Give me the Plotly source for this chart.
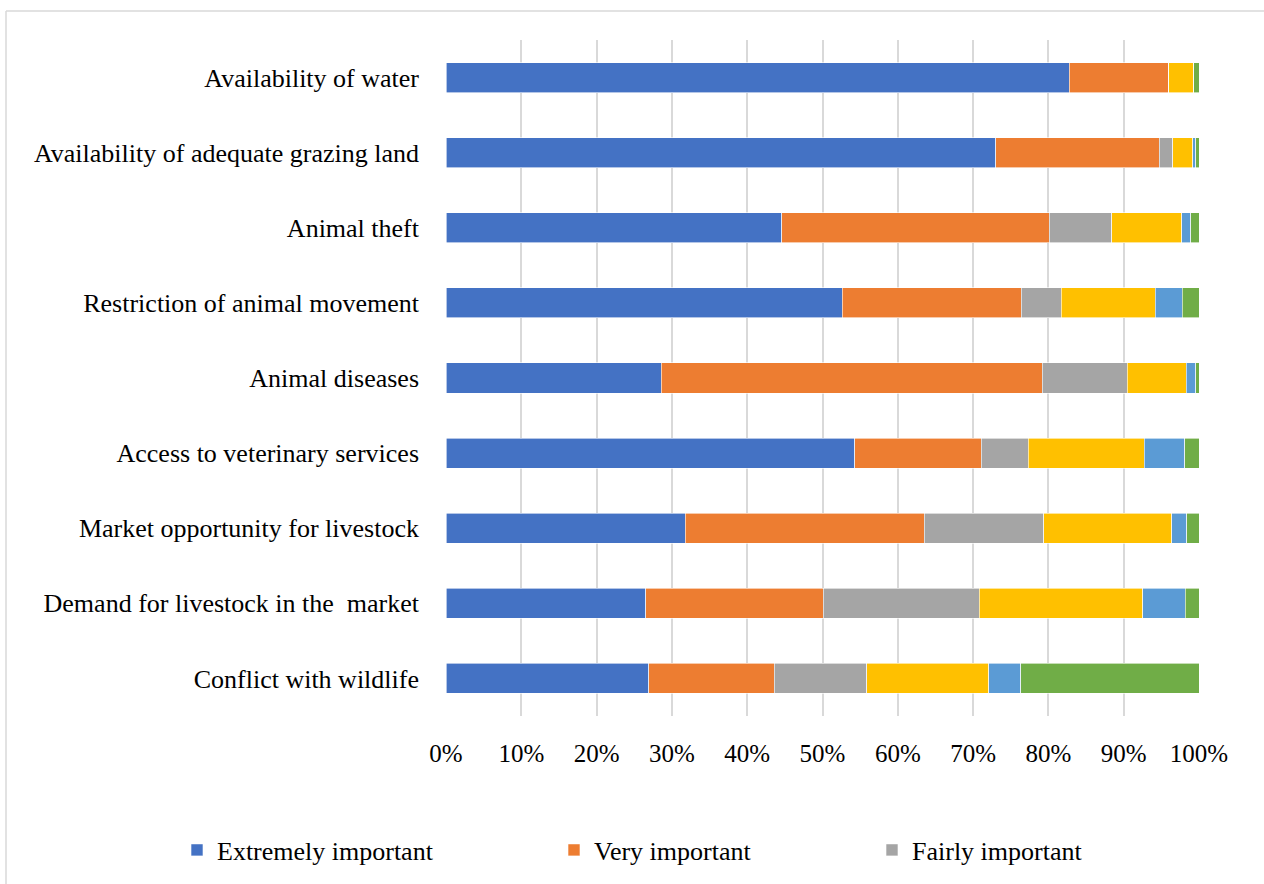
import plotly.graph_objects as go

# Constraints rated by respondents (top to bottom)
categories = [
    "Availability of water",
    "Availability of adequate grazing land",
    "Animal theft",
    "Restriction of animal movement",
    "Animal diseases",
    "Access to veterinary services",
    "Market opportunity for livestock",
    "Demand for livestock in the  market",
    "Conflict with wildlife",
]

# Share of respondents (%) per importance level
extremely = [82.8, 73.0, 44.6, 52.6, 28.6, 54.3, 31.8, 26.5, 26.9]
very = [13.2, 21.7, 35.5, 23.8, 50.6, 16.8, 31.7, 23.6, 16.7]
fairly = [0.0, 1.8, 8.3, 5.3, 11.3, 6.2, 15.9, 20.7, 12.3]
moderately = [3.3, 2.7, 9.3, 12.5, 7.8, 15.4, 17.0, 21.7, 16.2]
slightly = [0.0, 0.4, 1.2, 3.6, 1.3, 5.4, 2.0, 5.7, 4.2]
not_important = [0.7, 0.4, 1.1, 2.2, 0.4, 1.9, 1.6, 1.8, 23.7]

series = [
    ("Extremely important", extremely, "#4472C4", "legend", True),
    ("Very important", very, "#ED7D31", "legend2", True),
    ("Fairly important", fairly, "#A5A5A5", "legend3", True),
    ("Moderately important", moderately, "#FFC000", "legend", False),
    ("Slightly important", slightly, "#5B9BD5", "legend", False),
    ("Not important", not_important, "#70AD47", "legend", False),
]

FONT = "Book Antiqua, Palatino Linotype, Liberation Serif, serif"
SIZE = 26

fig = go.Figure()
for name, vals, color, leg, show in series:
    fig.add_trace(go.Bar(
        y=categories, x=vals, name=name, orientation="h",
        marker=dict(color=color, line=dict(color="white", width=0.6)),
        legend=leg, showlegend=show,
    ))

L, R, T, B = 446, 65, 40, 168
W, H = 1264, 884
pw, ph = W - L - R, H - T - B


def px_x(p):
    return (p - L) / pw


def px_y(p):
    return (H - B - p) / ph


leg_common = dict(orientation="h", yanchor="middle", xanchor="left",
                  xref="container", yref="container",
                  font=dict(family=FONT, size=SIZE, color="#000000"),
                  bgcolor="rgba(0,0,0,0)")
leg_y = (H - 850) / H

fig.update_layout(
    width=W, height=H,
    margin=dict(l=L, r=R, t=T, b=B, autoexpand=False),
    barmode="stack", bargap=0.6,
    paper_bgcolor="white", plot_bgcolor="white",
    font=dict(family=FONT, size=SIZE, color="#000000"),
    legend=dict(x=177 / W, y=leg_y, **leg_common),
    legend2=dict(x=554 / W, y=leg_y, **leg_common),
    legend3=dict(x=872 / W, y=leg_y, **leg_common),
    xaxis=dict(range=[0, 100], dtick=10, ticksuffix="%", showgrid=True,
               gridcolor="#d9d9d9", gridwidth=1.5, zeroline=False,
               showline=False, ticks="", ticklabelstandoff=20,
               automargin=False, tickfont=dict(family=FONT, size=25)),
    yaxis=dict(autorange="reversed", showgrid=False, showline=False,
               ticks="", ticklabelstandoff=26, automargin=False,
               tickfont=dict(family=FONT, size=SIZE)),
    shapes=[
        dict(type="line", xref="paper", yref="paper",
             x0=px_x(6), x1=px_x(1270), y0=px_y(11), y1=px_y(11),
             line=dict(color="#d9d9d9", width=1.5)),
        dict(type="line", xref="paper", yref="paper",
             x0=px_x(6), x1=px_x(6), y0=px_y(11), y1=px_y(890),
             line=dict(color="#d9d9d9", width=1.5)),
    ],
)

fig.write_html("out.html")
